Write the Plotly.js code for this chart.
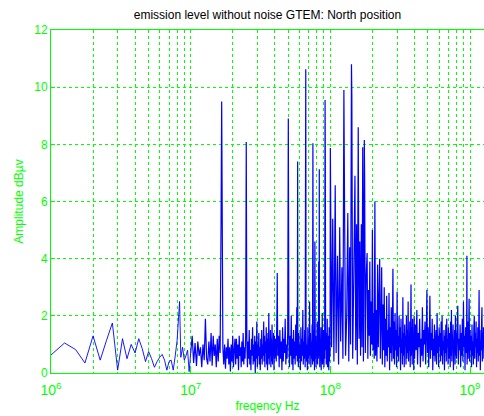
<!DOCTYPE html>
<html>
<head>
<meta charset="utf-8">
<script src="https://cdn.plot.ly/plotly-3.0.1.min.js"></script>
<style>html,body{margin:0;padding:0;background:#fff;}#chart{width:484px;height:416px;}</style>
</head>
<body>
<div id="chart"></div>
<script>
// Frequencies in MHz, amplitudes in dBuV.
// Band A: 1 - 10 MHz
var freqA = [1,1.25,1.5,1.75,2,2.25,2.5,2.75,3,3.25,3.5,3.75,4,4.25,4.5,4.75,5,5.25,5.5,5.75,6,6.25,6.5,6.75,7,7.25,7.5,7.75,8,8.33,8.5,8.75,9,9.25,9.5,9.75,10];
var ampA  = [0.63,1.05,0.82,0.35,1.3,0.45,1.15,1.75,0.1,1.2,0.5,1.0,0.7,1.2,0.85,0.4,0.75,0.5,0.2,0.4,0.55,0.65,0.45,0.1,0.4,0.45,0.1,0.6,1.15,2.5,0.55,0.9,0.45,0.6,0.8,0.05,0.7];
// Band B: 10 - 21 MHz
var freqB = [10.25,10.5,10.75,11,11.25,11.5,11.75,12,12.25,12.5,12.75,13,13.25,13.5,13.75,14,14.25,14.5,14.75,15,15.25,15.5,15.75,16,16.25,16.5,16.67,17,17.25,17.5,17.75,18,18.25,18.5,18.75,19,19.25,19.5,19.75,20,20.25,20.5,20.75];
var ampB  = [1.3,0.35,1.05,0.25,1.1,0.6,0.9,0.2,1.0,0.45,1.9,0.5,0.3,1.1,0.4,1.4,0.25,1.3,0.6,1.0,0.2,1.2,0.4,1.3,0.7,5.3,9.5,0.9,0.3,1.0,0.15,0.9,0.5,1.2,0.3,0.9,0.05,1.0,0.4,1.3,0.2,0.8,1.2];
// Band C: 21 - 40 MHz
var freqC = [21,21.25,21.5,21.75,22,22.25,22.5,22.75,23,23.25,23.5,23.75,24,24.25,24.5,24.75,25,25.25,25.5,25.75,26,26.25,26.5,26.75,27,27.25,27.5,27.75,28,28.25,28.5,28.75,29,29.25,29.5,29.75,30,30.25,30.5,30.75,31,31.25,31.5,31.75,32,32.25,32.5,32.75,33,33.33,33.5,33.75,34,34.25,34.5,34.75,35,35.25,35.5,35.75,36,36.25,36.5,36.75,37,37.25,37.5,37.75,38,38.25,38.5,38.75,39,39.25,39.5,39.75,40];
var ampC  = [0.3,1.2,0.5,1.0,0.1,1.3,0.6,0.9,0.2,1.1,0.4,1.4,0.3,0.9,0.5,1.3,8.08,1.0,0.2,1.1,0.5,1.5,0.3,0.8,0.1,1.2,0.6,1.6,0.3,1.0,0.4,1.3,0.0,1.1,0.5,1.8,0.2,1.0,0.6,1.4,0.3,0.9,0.1,1.2,0.5,1.5,0.3,1.0,0.6,1.8,0.4,1.3,0.2,1.1,0.7,1.6,0.3,1.2,0.1,1.4,0.5,2.1,0.3,1.0,0.6,1.5,0.2,1.2,0.4,1.7,0.3,1.1,0.6,1.4,0.1,1.3,0.5];
// Band D: 40 - 100 MHz
var freqD = [40.5,41,41.5,41.67,42,42.5,43,43.5,44,44.5,45,45.5,46,46.5,47,47.5,48,48.5,49,49.5,50,50.5,51,51.5,52,52.5,53,53.5,54,54.5,55,55.5,56,56.5,57,57.5,58,58.33,58.5,59,59.5,60,60.5,61,61.5,62,62.5,63,63.5,64,64.5,65,65.5,66,66.67,67,67.5,68,68.5,69,69.5,70,70.5,71,71.5,72,72.5,73,73.5,74,74.5,75,75.5,76,76.5,77,77.5,78,78.5,79,79.5,80,80.5,81,81.5,82,82.5,83,83.33,83.5,84,84.5,85,85.5,86,86.5,87,87.5,88,88.5,89,89.5,90,90.5,91,91.67,92,92.5,93,93.5,94,94.5,95,95.5,96,96.5,97,97.5,98,98.5,99,99.5,100];
var ampD  = [1.2,0.4,2.4,3.5,0.6,1.3,0.2,1.5,0.5,1.1,0.1,1.6,0.4,1.2,0.7,1.9,0.3,1.0,0.5,1.4,8.9,1.1,0.2,1.3,0.6,2.0,0.3,1.2,0.1,1.5,0.5,1.1,0.3,1.7,0.6,2.3,0.4,7.4,1.2,0.2,1.4,0.5,1.0,0.1,1.6,0.4,1.2,0.6,2.2,0.3,1.1,0.5,1.5,0.2,10.63,1.3,0.4,1.0,0.1,1.6,0.5,1.2,0.3,2.5,0.6,1.4,0.2,1.1,0.5,1.7,0.3,8.04,1.2,0.4,1.5,0.1,4.6,0.5,1.3,0.2,1.1,0.6,1.8,0.3,1.0,0.5,3.9,0.6,7.13,1.4,0.2,1.2,0.5,1.6,0.1,1.3,0.4,2.1,0.3,1.1,0.6,1.5,0.2,1.0,0.5,9.55,7.55,0.8,1.4,0.3,1.2,0.5,1.9,0.2,1.3,0.6,1.1,0.1,1.6,0.4,1.2,0.6,7.87];
// Band E: 100 - 210 MHz
var freqE = [102,104,106,108.33,110,112.5,114.5,116.67,118.5,121,123,125,126.5,128.5,131,133.33,135.5,137.5,139.5,141.67,142.5,144.5,147,150,152,154,156,158.33,160.5,162.5,164.5,166.67,168.5,170.5,172.5,175,176,178,180.5,183.33,185.5,187.5,189.5,191.67,193.5,196,198,200,202,204,206,208.33];
var ampE  = [0.9,5.4,0.4,6.57,0.7,4.1,0.3,5.1,1.1,3.7,0.5,9.9,5.45,0.6,2.0,5.6,0.4,4.4,1.0,10.8,9.7,0.5,3.2,6.9,0.8,5.2,0.3,8.6,1.2,4.6,0.6,5.2,0.9,7.9,0.4,8.15,6.8,0.7,3.4,4.2,0.5,2.9,1.3,3.9,0.6,2.5,1.0,5.0,0.8,2.1,0.5,6.0];
// Band F1: 210 - 400 MHz
var freqF1 = [210.5,213,215.5,218,220.5,223,225.5,228,230.5,233,235.5,238,240.5,243,245.5,248,250.5,253,255.5,258,260.5,263,265.5,268,270.5,273,275.5,278,280.5,283,285.5,288,290.5,293,295.5,298,300.5,303,305.5,308,310.5,313,315.5,318,320.5,323,325.5,328,330.5,333,335.5,338,340.5,343,345.5,348,350.5,353,355.5,358,360.5,363,365.5,368,370.5,373,375.5,378,380.5,383,385.5,388,390.5,393,395.5,398];
var ampF1  = [0.6,2.2,0.4,3.8,0.9,2.6,4.0,0.5,1.8,3.7,0.3,2.4,0.8,3.0,0.2,1.9,0.6,2.7,0.4,1.5,0.9,2.8,0.1,1.6,0.7,2.3,0.4,1.4,3.65,0.5,1.8,0.3,2.1,0.8,1.5,0.2,2.85,0.6,1.3,0.4,2.0,0.9,1.6,0.1,1.9,0.7,1.2,0.3,2.65,0.6,1.4,0.2,1.7,0.9,1.3,0.3,2.0,0.5,1.5,0.7,2.5,0.4,1.2,0.8,1.8,0.2,1.4,3.1,0.6,1.6,0.3,1.9,0.9,1.3,0.1,2.0];
// Band F2: 400 - 800 MHz
var freqF2 = [401,406,411,416,421,426,431,436,441,446,451,456,461,466,471,476,481,486,491,496,501,506,511,516,521,526,531,536,541,546,551,556,561,566,571,576,581,586,591,596,601,606,611,616,621,626,631,636,641,646,651,656,661,666,671,676,681,686,691,696,701,706,711,716,721,726,731,736,741,746,751,756,761,766,771,776,781,786,791,796];
var ampF2  = [0.5,1.7,0.8,2.2,0.3,1.4,0.9,1.9,0.2,1.2,0.6,2.3,0.4,1.5,1.0,1.8,0.3,1.3,2.9,0.7,1.6,0.2,1.1,2.7,0.5,1.4,0.8,1.9,0.1,1.2,0.6,1.7,0.4,1.0,1.5,0.3,2.1,0.7,1.3,0.2,1.6,0.9,1.4,0.4,1.8,0.6,2.0,0.3,1.1,0.8,1.5,0.1,1.3,0.7,1.7,0.4,1.9,0.9,1.2,0.3,1.6,0.5,1.0,1.4,0.2,1.8,0.6,2.2,0.4,1.3,0.9,1.7,0.1,1.2,0.7,1.5,0.3,2.0,0.6,1.4];
// Band F3: 800 - 1260 MHz
var freqF3 = [801,809,817,825,833,841,849,857,865,873,881,889,897,905,913,921,929,937,945,950,953,961,969,977,985,993,1001,1009,1017,1025,1033,1041,1049,1057,1065,1073,1081,1089,1097,1105,1113,1121,1129,1137,1145,1153,1161,1169,1177,1185,1193,1201,1209,1217,1225,1233,1241,1249,1257];
var ampF3  = [0.5,1.5,2.35,0.3,1.2,0.8,1.7,0.2,1.4,0.6,1.9,0.4,2.5,0.9,1.3,0.1,1.6,0.7,1.1,4.1,0.3,1.8,0.5,1.2,2.6,0.4,1.5,0.8,1.3,0.2,1.7,0.6,1.1,0.3,1.6,2.0,0.5,1.4,0.9,1.8,0.2,1.2,0.7,1.6,0.4,1.3,2.9,0.6,1.5,0.1,1.1,0.8,1.7,2.3,0.4,1.4,0.9,1.6,0.5];

var majorTicks = [1, 10, 100, 1000];
var majorLabels = ['10<sup>6</sup>', '10<sup>7</sup>', '10<sup>8</sup>', '10<sup>9</sup>'];
var minorTicks = [2,3,4,5,6,7,8,9,20,30,40,50,60,70,80,90,200,300,400,500,600,700,800,900];
var yTicks = [0, 2, 4, 6, 8, 10, 12];

// sparse low-frequency part (thin line) and dense part (continues from the last low point)
var lastA = freqA.length - 1;
var freqDense = [freqA[lastA]].concat(freqB, freqC, freqD, freqE, freqF1, freqF2, freqF3);
var ampDense  = [ampA[lastA]].concat(ampB, ampC, ampD, ampE, ampF1, ampF2, ampF3);

var GREEN = '#00ff00';
var FONT = 'Liberation Sans, Arial, Helvetica, sans-serif';

var traceLow = {
  x: freqA, y: ampA, type: 'scatter', mode: 'lines',
  line: {color: '#0000ff', width: 0.9, simplify: false},
  hoverinfo: 'skip'
};
var traceDense = {
  x: freqDense, y: ampDense, type: 'scatter', mode: 'lines',
  line: {color: '#0000ff', width: 1.2, simplify: false},
  hoverinfo: 'skip'
};

var layout = {
  width: 484, height: 416,
  margin: {l: 51, r: 0, t: 30, b: 43, pad: 0},
  paper_bgcolor: '#ffffff', plot_bgcolor: '#ffffff',
  showlegend: false,
  font: {family: FONT, color: GREEN, size: 12},
  title: {
    text: 'emission level without noise GTEM: North position',
    font: {family: FONT, size: 12, color: '#000000'},
    x: 0.5, xref: 'paper', y: 1 - 15/416, yref: 'container', yanchor: 'middle'
  },
  xaxis: {
    type: 'log', range: [0, 3.1], autorange: false,
    tickmode: 'array', tickvals: majorTicks, ticktext: majorLabels,
    tickfont: {family: FONT, size: 14, color: GREEN},
    ticks: 'inside', ticklen: 4, tickcolor: GREEN, tickwidth: 1,
    ticklabelstandoff: 4,
    showline: true, linecolor: GREEN, linewidth: 1, mirror: true,
    showgrid: true, gridcolor: GREEN, gridwidth: 1, griddash: '3px,3px',
    zeroline: false,
    minor: {tickmode: 'array', tickvals: minorTicks, showgrid: true, gridcolor: GREEN, gridwidth: 1, griddash: '3px,3px', ticklen: 0},
    title: {text: 'freqency Hz', font: {family: FONT, size: 12, color: GREEN}, standoff: 4}
  },
  yaxis: {
    range: [0, 12], autorange: false,
    tickmode: 'array', tickvals: yTicks,
    tickfont: {family: FONT, size: 12, color: GREEN},
    ticks: 'inside', ticklen: 4, tickcolor: GREEN, tickwidth: 1,
    showline: true, linecolor: GREEN, linewidth: 1, mirror: true,
    showgrid: true, gridcolor: GREEN, gridwidth: 1, griddash: '3px,3px',
    zeroline: false,
    title: {text: 'Amplitude dBµv', font: {family: FONT, size: 12, color: GREEN}, standoff: 8}
  }
};

Plotly.newPlot('chart', [traceLow, traceDense], layout, {staticPlot: true, displayModeBar: false});
</script>
</body>
</html>
